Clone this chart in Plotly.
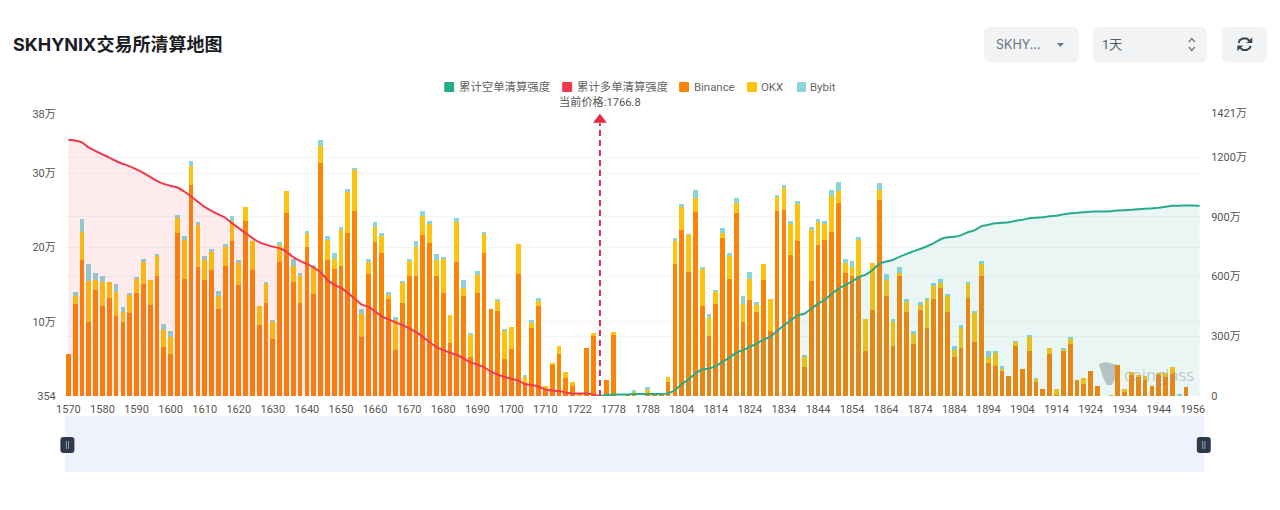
import plotly.graph_objects as go

TITLE = "SKHYNIX交易所清算地图"
PRICE_TEXT = "当前价格:1766.8"
NAME_SHORT = "累计空单清算强度"
NAME_LONG = "累计多单清算强度"

categories = (
    [str(v) for v in range(1570, 1720, 2)]
    + ["1722", "1724", "1726", "1766.8", "1776", "1778", "1780", "1782", "1784", "1786", "1788",
       "1790", "1792", "1794", "1802"]
    + [str(v) for v in range(1804, 1952, 2)]
    + ["1952", "1956", "1958"]
)
categories = categories[:167]

# 清算强度, 单位: 万
binance = [
    5.7, 12.4, 18.3, 10.0, 14.3, 12.1, 13.2, 10.8, 10.0, 11.2,
    13.9, 15.1, 12.2, 16.1, 6.6, 5.7, 21.9, 15.8, 28.4, 17.3,
    15.6, 16.9, 11.7, 17.5, 20.8, 15.0, 23.5, 17.0, 9.5, 12.5,
    7.7, 18.1, 24.6, 15.3, 12.5, 20.0, 13.7, 31.3, 18.3, 17.1,
    17.5, 21.9, 24.9, 7.9, 16.4, 20.7, 19.2, 13.0, 6.2, 12.5,
    16.1, 16.1, 21.7, 20.6, 16.1, 13.9, 7.2, 18.0, 13.4, 5.3,
    13.9, 19.2, 11.7, 11.5, 5.0, 6.3, 16.4, 1.6, 9.1, 12.1,
    0.8, 4.3, 5.7, 2.4, 1.4, 0.1, 6.5, 8.1, 0, 2.2,
    8.2, 0, 0.1, 0.1, 0, 0.3, 0.1, 0.1, 1.9, 17.8,
    22.4, 16.7, 24.7, 12.1, 8.1, 12.4, 21.2, 15.8, 24.6, 9.9,
    12.9, 11.3, 15.6, 8.8, 24.9, 25.0, 19.0, 20.9, 3.9, 15.5,
    20.3, 21.0, 22.1, 26.0, 16.6, 16.1, 16.1, 6.1, 11.6, 26.4,
    13.4, 6.7, 16.1, 11.3, 7.0, 11.6, 9.1, 13.0, 14.5, 11.3,
    5.2, 6.5, 13.2, 7.3, 16.1, 4.5, 4.0, 3.4, 2.7, 6.7,
    3.7, 6.1, 1.9, 0.9, 5.6, 0.1, 6.1, 7.0, 2.1, 1.6,
    3.4, 1.3, 0, 0, 4.2, 0.6, 2.8, 2.6, 2.2, 1.3,
    2.8, 2.5, 3.0, 0, 1.2, 0, 0,
]
okx = [
    0, 1.1, 3.8, 5.5, 1.3, 3.3, 2.2, 3.2, 1.3, 2.4,
    1.8, 2.9, 3.4, 2.7, 2.3, 2.3, 2.0, 5.2, 2.5, 5.7,
    2.7, 2.5, 1.8, 2.5, 2.8, 2.9, 1.9, 3.8, 2.6, 2.7,
    2.2, 2.2, 3.0, 2.2, 3.6, 1.8, 3.5, 2.3, 2.7, 1.3,
    4.8, 5.6, 5.6, 3.1, 1.7, 2.0, 2.4, 0.6, 4.0, 2.8,
    2.2, 4.0, 2.5, 2.5, 2.2, 4.6, 3.7, 5.4, 1.2, 2.9,
    2.4, 2.6, 0, 1.4, 3.8, 3.0, 4.0, 1.0, 0.7, 0.7,
    0.6, 0.1, 1.0, 0.8, 0.5, 0.1, 0, 0.4, 0, 0,
    0.4, 0, 0, 0.4, 0, 0.5, 0, 0, 0.7, 3.0,
    3.0, 5.0, 2.0, 5.1, 2.4, 1.7, 0.7, 3.0, 1.4, 2.5,
    2.9, 0.9, 2.2, 4.3, 2.0, 3.0, 4.1, 4.9, 1.4, 6.8,
    3.1, 2.1, 4.8, 1.6, 1.3, 1.2, 4.9, 4.3, 6.3, 1.3,
    2.2, 3.2, 0.4, 1.4, 1.4, 0.7, 3.9, 1.8, 0.7, 2.2,
    1.0, 2.6, 1.9, 3.9, 1.7, 0.8, 1.9, 0.3, 0, 0.6,
    0, 1.9, 0.4, 0, 0.8, 0.8, 0.2, 0.8, 0, 0.8,
    0, 0, 0, 0.1, 0, 0.4, 0.4, 0.2, 0.5, 0,
    0.3, 0.6, 0.9, 0.1, 0, 0, 0,
]
bybit = [
    0, 0.5, 1.7, 2.2, 1.0, 0.7, 0, 1.1, 0.7, 0.3,
    0.3, 0.4, 0, 0.3, 0.8, 0.8, 0.4, 0.5, 0.7, 0.4,
    0.5, 0.4, 0.7, 0.4, 0.6, 0.4, 0, 0, 0, 0.2,
    0.3, 0.4, 0, 0.9, 0.4, 0.4, 0.4, 0.9, 0.6, 0.9,
    0.5, 0.3, 0.1, 0.7, 0.4, 0.7, 0.3, 0.4, 0.4, 0.2,
    0.1, 0.8, 0.7, 0.5, 0.8, 0.2, 0, 0.5, 1.0, 0.3,
    0.5, 0.3, 0, 0.1, 0.1, 0, 0, 0.1, 0.4, 0.4,
    0, 0, 0, 0, 0, 0, 0, 0, 0, 0,
    0, 0, 0, 0.3, 0, 0.4, 0, 0, 0, 0.5,
    0.4, 0.1, 1.0, 0.1, 0.6, 0.2, 0.7, 0.5, 0.6, 1.0,
    0.9, 0.4, 0, 0, 0.2, 0.4, 0.5, 0.4, 0.1, 0.5,
    0.4, 0.5, 0.8, 1.2, 0.6, 0.9, 0.4, 0, 0, 1.0,
    0.8, 0.5, 0.8, 0.4, 0.4, 0.3, 0.1, 0.4, 0.5, 0.1,
    0.5, 0.5, 0.2, 0.2, 0.4, 0.7, 0.1, 0.4, 0, 0.1,
    0, 0.1, 0.1, 0, 0, 0, 0.1, 0.2, 0, 0,
    0, 0, 0, 0, 0, 0, 0, 0, 0, 0,
    0, 0, 0, 0.1, 0, 0, 0,
]
long_cumulative = [
    1287, 1283, 1273, 1247, 1230, 1213, 1197, 1180, 1165, 1153,
    1138, 1120, 1100, 1080, 1065, 1055, 1047, 1027, 1003, 975,
    950, 930, 912, 895, 868, 843, 818, 793, 773, 760,
    750, 742, 725, 697, 678, 663, 645, 622, 583, 560,
    543, 518, 490, 460, 447, 425, 400, 385, 370, 357,
    340, 322, 297, 270, 247, 230, 217, 207, 188, 170,
    158, 145, 122, 108, 95, 87, 78, 60, 55, 48,
    33, 28, 25, 18, 13, 12, 12, 7, 0,
]
short_cumulative = [
    0, 5, 8, 7, 8, 10, 10, 10, 10, 10,
    13, 30, 60, 83, 113, 133, 138, 150, 172, 193,
    218, 230, 247, 263, 283, 297, 327, 355, 380, 405,
    413, 438, 463, 483, 513, 538, 558, 575, 597, 610,
    633, 663, 675, 683, 700, 713, 727, 738, 752, 768,
    787, 797, 800, 808, 822, 833, 853, 860, 867, 870,
    872, 880, 885, 893, 895, 897, 903, 905, 912, 918,
    920, 923, 925, 927, 927, 928, 932, 933, 935, 938,
    940, 942, 945, 950, 955, 955, 957, 957, 955,
]
left_ticks = [0.0354, 10, 20, 30, 38]
left_labels = ["354", "10万", "20万", "30万", "38万"]
right_ticks = [0, 300, 600, 900, 1200, 1421]
right_labels = ["0", "300万", "600万", "900万", "1200万", "1421万"]

W, H = 1280, 510
L, R, T, B = 64.6, 1203.2, 113.0, 396.0
FONT = "Roboto, 'Noto Sans CJK SC', sans-serif"
PRICE_IDX = 78


def px(x):
    return (x - L) / (R - L)


def py(y):
    return (B - y) / (B - T)


def rrect(x0, y0, x1, y1, r, fill, layer="above"):
    p = (
        f"M {px(x0+r)} {py(y0)} L {px(x1-r)} {py(y0)} Q {px(x1)} {py(y0)} {px(x1)} {py(y0+r)} "
        f"L {px(x1)} {py(y1-r)} Q {px(x1)} {py(y1)} {px(x1-r)} {py(y1)} "
        f"L {px(x0+r)} {py(y1)} Q {px(x0)} {py(y1)} {px(x0)} {py(y1-r)} "
        f"L {px(x0)} {py(y0+r)} Q {px(x0)} {py(y0)} {px(x0+r)} {py(y0)} Z"
    )
    return dict(type="path", path=p, xref="paper", yref="paper", fillcolor=fill,
                line=dict(width=0), layer=layer)


def poly(points, fill=None, color=None, width=0, closed=True, layer="above"):
    p = "M " + " L ".join(f"{px(a)} {py(b)}" for a, b in points) + (" Z" if closed else "")
    return dict(type="path", path=p, xref="paper", yref="paper",
                fillcolor=fill if fill else "rgba(0,0,0,0)",
                line=dict(width=width, color=color or "rgba(0,0,0,0)"), layer=layer)


def text(x, y, s, size=11, color="#666666", anchor="left", bold=False, family=FONT):
    return dict(xref="paper", yref="paper", x=px(x), y=py(y), text=f"<b>{s}</b>" if bold else s,
                showarrow=False, xanchor=anchor, yanchor="middle",
                font=dict(size=size, color=color, family=family), borderpad=0, borderwidth=0)


fig = go.Figure()
fig.add_bar(x=categories, y=binance, name="Binance", marker=dict(color="#FB8407", line_width=0))
fig.add_bar(x=categories, y=okx, name="OKX", marker=dict(color="#FFC30E", line_width=0))
fig.add_bar(x=categories, y=bybit, name="Bybit", marker=dict(color="#8AD5DA", line_width=0))
fig.add_scatter(x=categories[:len(long_cumulative)], y=long_cumulative, name=NAME_LONG, yaxis="y2",
                mode="lines", line=dict(color="#F0394D", width=2, shape="spline", smoothing=0.3),
                fill="tozeroy", fillcolor="rgba(240,57,77,0.10)")
fig.add_scatter(x=categories[PRICE_IDX:], y=short_cumulative, name=NAME_SHORT, yaxis="y2",
                mode="lines", line=dict(color="#27AB8D", width=2, shape="spline", smoothing=0.3),
                fill="tozeroy", fillcolor="rgba(39,171,141,0.10)")
fig.add_scatter(x=[categories[PRICE_IDX]] * 2, y=[0, 1370], yaxis="y2", mode="lines",
                showlegend=False, line=dict(color="#DC2A4A", width=2, dash="6px,4px"))
fig.add_scatter(x=[categories[PRICE_IDX]], y=[1387], yaxis="y2", mode="markers", showlegend=False,
                marker=dict(symbol="triangle-up", size=12, color="#E8283F", line_width=0))

shapes = [
    # 数据缩放条
    dict(type="rect", xref="paper", yref="paper", x0=px(64.6), x1=px(1204), y0=py(416), y1=py(472),
         fillcolor="#EEF2FC", line=dict(width=0), layer="below"),
    rrect(60, 437, 74, 453, 3, "#2E3A4C"),
    rrect(1197, 437, 1211, 453, 3, "#2E3A4C"),
    rrect(65.5, 441, 66.3, 449, 0.3, "#AEB6C2"),
    rrect(67.7, 441, 68.5, 449, 0.3, "#AEB6C2"),
    rrect(1202.5, 441, 1203.3, 449, 0.3, "#AEB6C2"),
    rrect(1204.7, 441, 1205.5, 449, 0.3, "#AEB6C2"),
    # 右上控件
    rrect(984, 27, 1079, 62, 6, "#F1F3F5"),
    rrect(1093, 27, 1207, 62, 6, "#F1F3F5"),
    rrect(1222, 27, 1267, 62, 6, "#F1F3F5"),
    poly([(1057, 43), (1064, 43), (1060.5, 47)], fill="#6B7280"),
    poly([(1189, 42), (1192, 38.5), (1195, 42)], color="#777777", width=1.3, closed=False),
    poly([(1189, 47), (1192, 50.5), (1195, 47)], color="#777777", width=1.3, closed=False),
    poly([(1239, 43), (1240, 40), (1243, 38.5), (1247, 38.5), (1250, 41)], color="#3F4650", width=2, closed=False),
    poly([(1251, 46), (1250, 48), (1247, 50), (1243, 50), (1240, 47.5)], color="#3F4650", width=2, closed=False),
    poly([(1246.5, 43), (1252.5, 43), (1252.5, 37.5)], fill="#3F4650"),
    poly([(1243.5, 45.5), (1237.5, 45.5), (1237.5, 51)], fill="#3F4650"),
    # 水印
    poly([(1099, 364), (1106, 362), (1118, 365), (1117, 376), (1112, 385), (1107, 385), (1103, 377)],
         fill="#C4C6C8", layer="below"),
    # 图例色块
    rrect(444, 82, 454, 92, 1, "#27AB8D"),
    rrect(562, 82, 572, 92, 1, "#F0394D"),
    rrect(679, 82, 689, 92, 1, "#FB8407"),
    rrect(747, 82, 757, 92, 1, "#FFC30E"),
    rrect(797, 82, 806, 92, 1, "#8AD5DA"),
]

annotations = [
    text(1124, 374, "coinglass", size=16.5, color="rgba(150,155,160,0.5)", family="'Open Sans', sans-serif"),
    text(459, 87, NAME_SHORT, size=11.4),
    text(577, 87, NAME_LONG, size=11.4),
    text(694, 87, "Binance", size=11.4),
    text(761, 87, "OKX", size=11.4),
    text(810, 87, "Bybit", size=11.4),
    text(600, 102, PRICE_TEXT, size=11.2, color="#555555", anchor="center"),
    text(996, 44.5, "SKHY...", size=12.5, color="#6B7280", family="Inter, sans-serif"),
    text(1102, 44.5, "1天", size=13, color="#555B65"),
]

axis_font = dict(size=11, color="#555555", family=FONT)
fig.update_layout(
    width=W, height=H, autosize=False,
    paper_bgcolor="white", plot_bgcolor="white",
    margin=dict(l=L, r=W - R, t=T, b=H - B, pad=0),
    title=dict(text=f"<b>{TITLE}</b>", xref="container", yref="container", x=13 / W, y=1 - 45 / H,
               xanchor="left", yanchor="middle",
               font=dict(size=18, color="#1A1D24", family="Inter, 'Noto Sans CJK SC', sans-serif")),
    barmode="stack", bargap=0.3, showlegend=False,
    xaxis=dict(type="category", categoryorder="array", categoryarray=categories,
               range=[-0.5, 166.5], tickmode="array", tickvals=categories[::5], ticktext=categories[::5],
               tickangle=0, tickfont=axis_font, showgrid=False, zeroline=False, showline=False,
               ticks="outside", ticklen=3, tickcolor="rgba(0,0,0,0)"),
    yaxis=dict(range=[0, 38.09], tickmode="array", tickvals=left_ticks, ticktext=left_labels,
               tickfont=axis_font, gridcolor="#F5F5F6", gridwidth=1, zeroline=False, showline=False,
               ticks="outside", ticklen=6, tickcolor="rgba(0,0,0,0)"),
    yaxis2=dict(range=[0, 1421], overlaying="y", side="right", tickmode="array", tickvals=right_ticks,
                ticktext=right_labels, tickfont=axis_font, gridcolor="#F5F5F6", gridwidth=1,
                zeroline=False, showline=False, ticks="outside", ticklen=5,
                tickcolor="rgba(0,0,0,0)"),
    shapes=shapes, annotations=annotations,
)

fig.write_html("out.html", config=dict(displayModeBar=False),
               post_script="document.body.style.margin='0';")
